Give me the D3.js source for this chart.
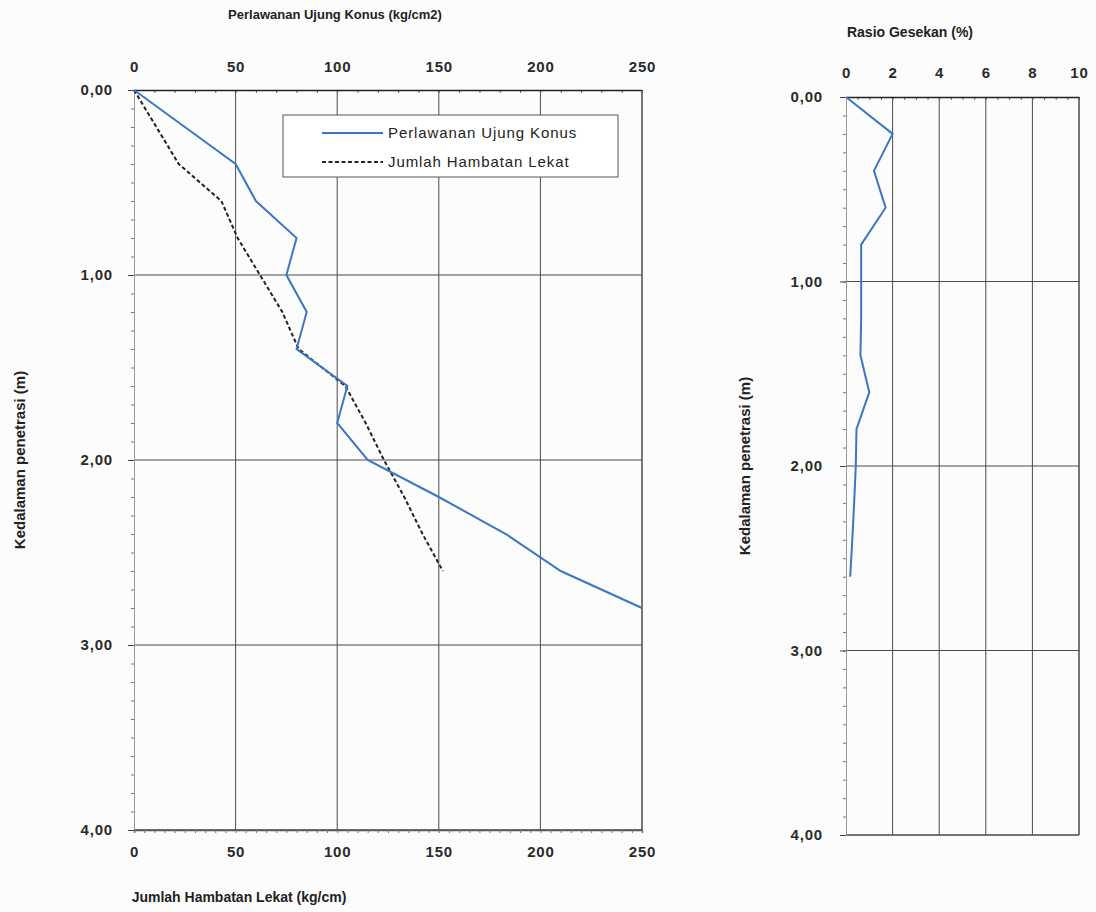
<!DOCTYPE html>
<html>
<head>
<meta charset="utf-8">
<script src="https://cdn.jsdelivr.net/npm/d3@7"></script>
<style>
  body { margin: 0; background: #fcfcfc; }
  svg { font-family: "Liberation Sans", Arial, sans-serif; }
  .tick text { font-size: 15px; font-weight: bold; letter-spacing: 0.8px; fill: #2a2a2a; }
</style>
</head>
<body>
<div id="chart"></div>
<script>
// depth (m), sampled every 0.2 m
const depth = [0, 0.2, 0.4, 0.6, 0.8, 1.0, 1.2, 1.4, 1.6, 1.8, 2.0, 2.2, 2.4, 2.6, 2.8]
// Perlawanan Ujung Konus (kg/cm2)
const qc = [0, 25, 50, 60, 80, 75, 85, 80, 105, 100, 115, 150, 183, 210, 250]
// Jumlah Hambatan Lekat (kg/cm)
const jhlDepth = [0, 0.2, 0.4, 0.6, 0.8, 1.0, 1.2, 1.4, 1.6, 1.8, 2.0, 2.2, 2.4, 2.6]
const jhl = [0, 11, 22, 43, 51, 62, 73, 81, 104, 114, 123, 133, 142, 152]
// Rasio Gesekan (%)
const rasioDepth = [0, 0.2, 0.4, 0.6, 0.8, 1.0, 1.2, 1.4, 1.6, 1.8, 2.0, 2.2, 2.4, 2.6]
const rasio = [0, 2.0, 1.2, 1.7, 0.65, 0.65, 0.65, 0.62, 1.0, 0.45, 0.42, 0.35, 0.27, 0.18]

const qcTicks = [0, 50, 100, 150, 200, 250]
const rasioTicks = [0, 2, 4, 6, 8, 10]
const depthTicks = [0, 1, 2, 3, 4]

const blue = "#3b78c2"
const gridColor = "#4a4a4a"
const fmtDepth = d => d3.format(".2f")(d).replace(".", ",")

const svg = d3.select("#chart")
  .append("svg")
    .attr("width", 1096)
    .attr("height", 912)

function drawFrame(x, y, opts) {
  const [x0, x1] = x.range()
  const [y0, y1] = y.range()
  const g = svg.append("g")

  // grid lines
  g.selectAll(".vgrid")
    .data(opts.xTicks.slice(1))
    .join("line")
      .attr("x1", d => x(d)).attr("x2", d => x(d))
      .attr("y1", y0).attr("y2", y1)
      .attr("stroke", gridColor).attr("stroke-width", 1)
  g.selectAll(".hgrid")
    .data(depthTicks.slice(1))
    .join("line")
      .attr("x1", x0).attr("x2", x1)
      .attr("y1", d => y(d)).attr("y2", d => y(d))
      .attr("stroke", gridColor).attr("stroke-width", d => d === 4 ? 1.5 : 1)

  // minor ticks top
  g.append("g")
    .attr("transform", `translate(0,${y0})`)
    .call(d3.axisBottom(x).tickValues(d3.range(x.domain()[0], x.domain()[1] + 1e-9, opts.topMinor)).tickSize(3).tickFormat(""))
    .call(s => s.select(".domain").remove())
    .call(s => s.selectAll("line").attr("stroke", "#666"))

  // top labels
  g.append("g")
    .attr("transform", `translate(0,${y0})`)
    .call(d3.axisTop(x).tickValues(opts.xTicks).tickSize(0).tickPadding(opts.topPad))
    .call(s => s.select(".domain").attr("stroke", "#222").attr("stroke-width", 1.5))

  // left axis
  g.append("g")
    .attr("transform", `translate(${x0},0)`)
    .call(d3.axisLeft(y).tickValues(d3.range(0, 4.001, 0.1)).tickSize(3).tickFormat(""))
    .call(s => s.select(".domain").attr("stroke", "#999").attr("stroke-width", 1))
    .call(s => s.selectAll("line").attr("stroke", "#777"))
  g.append("g")
    .attr("transform", `translate(${x0},0)`)
    .call(d3.axisLeft(y).tickValues(depthTicks).tickSize(6).tickFormat(fmtDepth).tickPadding(opts.leftPad))
    .call(s => s.select(".domain").remove())
    .call(s => s.selectAll("line").attr("stroke", "#444"))

  // right border
  g.append("line")
    .attr("x1", x1).attr("x2", x1).attr("y1", y0).attr("y2", y1)
    .attr("stroke", gridColor).attr("stroke-width", 1)

  // y title
  g.append("text")
    .attr("transform", `translate(${opts.yTitleX},${(y0 + y1) / 2}) rotate(-90)`)
    .attr("text-anchor", "middle")
    .attr("font-size", 15).attr("font-weight", "bold").attr("fill", "#222")
    .text("Kedalaman penetrasi (m)")
  return g
}

// ---- left panel ----
const xL = d3.scaleLinear().domain([0, 250]).range([134, 642])
const yL = d3.scaleLinear().domain([0, 4]).range([90, 830])
const gL = drawFrame(xL, yL, { xTicks: qcTicks, topMinor: 10, topPad: 18, leftPad: 15, yTitleX: 25 })

// bottom axis
gL.append("g")
  .attr("transform", `translate(0,${yL(4)})`)
  .call(d3.axisBottom(xL).tickValues(d3.range(0, 251, 5)).tickSize(3).tickFormat(""))
  .call(s => s.select(".domain").attr("stroke", "#555").attr("stroke-width", 1.5))
  .call(s => s.selectAll("line").attr("stroke", "#777"))
gL.append("g")
  .attr("transform", `translate(0,${yL(4)})`)
  .call(d3.axisBottom(xL).tickValues(qcTicks).tickSize(0).tickPadding(16))
  .call(s => s.select(".domain").remove())

gL.append("text")
  .attr("x", 335).attr("y", 19)
  .attr("text-anchor", "middle")
  .attr("font-size", 13).attr("font-weight", "bold").attr("fill", "#222")
  .text("Perlawanan Ujung Konus (kg/cm2)")
gL.append("text")
  .attr("x", 239).attr("y", 902)
  .attr("text-anchor", "middle")
  .attr("font-size", 14).attr("font-weight", "bold").attr("fill", "#222")
  .text("Jumlah Hambatan Lekat (kg/cm)")

const lineL = d3.line().x(d => xL(d[1])).y(d => yL(d[0]))

gL.append("path")
  .datum(d3.zip(jhlDepth, jhl))
  .attr("d", lineL)
  .attr("fill", "none")
  .attr("stroke", "#222")
  .attr("stroke-width", 2)
  .attr("stroke-dasharray", "4,2.5")

gL.append("path")
  .datum(d3.zip(depth, qc))
  .attr("d", lineL)
  .attr("fill", "none")
  .attr("stroke", blue)
  .attr("stroke-width", 2)

// legend
const leg = gL.append("g").attr("transform", "translate(283,115)")
leg.append("rect")
  .attr("width", 335).attr("height", 62)
  .attr("fill", "#fff").attr("stroke", "#555").attr("stroke-width", 1)
const legItems = [
  { name: "Perlawanan Ujung Konus", color: blue, dash: null },
  { name: "Jumlah Hambatan Lekat", color: "#222", dash: "4,2.5" }
]
legItems.forEach((it, i) => {
  const yy = 18 + i * 29
  leg.append("line")
    .attr("x1", 39).attr("x2", 100).attr("y1", yy).attr("y2", yy)
    .attr("stroke", it.color).attr("stroke-width", 2)
    .attr("stroke-dasharray", it.dash)
  leg.append("text")
    .attr("x", 105).attr("y", yy + 5)
    .attr("font-size", 15).attr("letter-spacing", 0.9).attr("fill", "#222")
    .text(it.name)
})

// ---- right panel ----
const xR = d3.scaleLinear().domain([0, 10]).range([846, 1079])
const yR = d3.scaleLinear().domain([0, 4]).range([97, 835])
const gR = drawFrame(xR, yR, { xTicks: rasioTicks, topMinor: 0.5, topPad: 19, leftPad: 17, yTitleX: 750 })

gR.append("text")
  .attr("x", 910).attr("y", 37)
  .attr("text-anchor", "middle")
  .attr("font-size", 14).attr("font-weight", "bold").attr("fill", "#222")
  .text("Rasio Gesekan (%)")

gR.append("path")
  .datum(d3.zip(rasioDepth, rasio))
  .attr("d", d3.line().x(d => xR(d[1])).y(d => yR(d[0])))
  .attr("fill", "none")
  .attr("stroke", blue)
  .attr("stroke-width", 2)
</script>
</body>
</html>
